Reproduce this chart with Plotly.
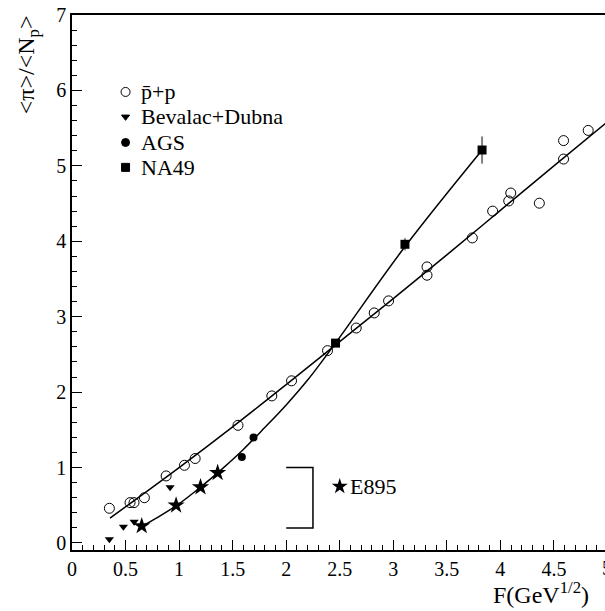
import plotly.graph_objects as go

# ---- data ----
pp_x = [0.349, 0.542, 0.579, 0.676, 0.879, 1.05, 1.15, 1.55, 1.866, 2.05, 2.386, 2.654, 2.822, 2.956,
        3.315, 3.315, 3.738, 3.928, 4.078, 4.097, 4.364, 4.59, 4.59, 4.82]
pp_y = [0.46, 0.535, 0.535, 0.60, 0.889, 1.03, 1.12, 1.56, 1.95, 2.15, 2.55, 2.85, 3.05, 3.21,
        3.55, 3.66, 4.045, 4.40, 4.535, 4.64, 4.505, 5.09, 5.335, 5.47]

bev_x = [0.349, 0.48, 0.58, 0.916]
bev_y = [0.05, 0.216, 0.28, 0.74]

ags_x = [1.586, 1.695]
ags_y = [1.14, 1.40]

na49_x = [2.461, 3.109, 3.829]
na49_y = [2.65, 3.96, 5.21]
na49_err = [0.05, 0.08, 0.18]

e895_x = [0.651, 0.972, 1.20, 1.36]
e895_y = [0.225, 0.50, 0.74, 0.93]

# fit curves
fit_pp_x = [0.355, 1.0, 1.5, 2.0, 2.5, 3.0, 3.5, 4.0, 4.5, 4.98]
fit_pp_y = [0.33, 1.0, 1.54, 2.10, 2.67, 3.24, 3.82, 4.41, 5.00, 5.56]

fit_aa_x = [0.65, 0.8, 1.0, 1.2, 1.4, 1.6, 1.8, 2.0, 2.2, 2.46, 3.11, 3.83]
fit_aa_y = [0.22, 0.34, 0.52, 0.74, 0.98, 1.24, 1.53, 1.83, 2.16, 2.65, 3.93, 5.21]

# E895 bracket
br_x = [2.0, 2.25, 2.25, 2.0]
br_y = [1.0, 1.0, 0.2, 0.2]

legend_labels = ["p\u0304+p", "Bevalac+Dubna", "AGS", "NA49"]
legend_y = [5.98, 5.65, 5.31, 4.98]

x_ticks = [0, 0.5, 1, 1.5, 2, 2.5, 3, 3.5, 4, 4.5]
y_ticks = [0, 1, 2, 3, 4, 5, 6, 7]

FONT = "Liberation Serif"

fig = go.Figure()

fig.add_trace(go.Scatter(x=fit_pp_x, y=fit_pp_y, mode="lines", line=dict(color="black", width=1.5, shape="spline")))
fig.add_trace(go.Scatter(x=fit_aa_x, y=fit_aa_y, mode="lines", line=dict(color="black", width=1.5, shape="spline")))
fig.add_trace(go.Scatter(x=br_x, y=br_y, mode="lines", line=dict(color="black", width=1.5)))

fig.add_trace(go.Scatter(x=pp_x, y=pp_y, mode="markers",
                         marker=dict(symbol="circle-open", size=10, color="black", line=dict(width=1))))
fig.add_trace(go.Scatter(x=bev_x, y=bev_y, mode="markers",
                         marker=dict(symbol="triangle-down", size=8, color="black")))
fig.add_trace(go.Scatter(x=ags_x, y=ags_y, mode="markers",
                         marker=dict(symbol="circle", size=8, color="black")))
fig.add_trace(go.Scatter(x=na49_x, y=na49_y, mode="markers",
                         error_y=dict(type="data", array=na49_err, color="#808080", thickness=2, width=0),
                         marker=dict(symbol="square", size=9, color="black")))
fig.add_trace(go.Scatter(x=e895_x, y=e895_y, mode="markers",
                         marker=dict(symbol="star", size=13, color="black")))

# legend markers
leg_sym = ["circle-open", "triangle-down", "circle", "square"]
leg_size = [9, 7, 8, 8]
for s, sz, yy in zip(leg_sym, leg_size, legend_y):
    fig.add_trace(go.Scatter(x=[0.5], y=[yy], mode="markers",
                             marker=dict(symbol=s, size=sz, color="black", line=dict(width=1, color="black"))))
fig.add_trace(go.Scatter(x=[2.5], y=[0.75], mode="markers", marker=dict(symbol="star", size=12, color="black")))

ann = []
for lab, yy in zip(legend_labels, legend_y):
    ann.append(dict(x=0.63, y=yy, xref="x", yref="y", text=lab, showarrow=False,
                    xanchor="left", yanchor="middle", font=dict(family=FONT, size=22, color="black")))
ann.append(dict(x=2.58, y=0.75, xref="x", yref="y", text="E895", showarrow=False,
                xanchor="left", yanchor="middle", font=dict(family=FONT, size=22, color="black")))
ann.append(dict(x=-0.0826, y=0.908, xref="paper", yref="paper", text="&lt;π&gt;/&lt;N<sub>p</sub>&gt;",
                textangle=-90, showarrow=False, xanchor="center", yanchor="middle",
                font=dict(family=FONT, size=24, color="black")))
ann.append(dict(x=0.88, y=-0.112, xref="paper", yref="paper", text="F(GeV<sup>1/2</sup>)",
                showarrow=False, xanchor="center", yanchor="bottom",
                font=dict(family=FONT, size=24, color="black")))
ann.append(dict(x=5 / 4.977, y=-0.0345, xref="paper", yref="paper", text="5",
                showarrow=False, xanchor="center", yanchor="middle",
                font=dict(family=FONT, size=20, color="black")))

fig.update_layout(
    width=605, height=611,
    margin=dict(l=72, r=0, t=15, b=61),
    paper_bgcolor="white", plot_bgcolor="white",
    showlegend=False,
    annotations=ann,
    font=dict(family=FONT, size=20, color="black"),
)
fig.update_xaxes(range=[0, 4.977], tickvals=x_ticks, ticktext=[f"{v:g}" for v in x_ticks],
                 ticks="inside", ticklen=10, tickwidth=1, tickcolor="black",
                 showline=True, linecolor="black", linewidth=1.5, mirror=True,
                 showgrid=False, zeroline=False,
                 minor=dict(ticks="inside", ticklen=5, dtick=0.1, tick0=0, tickcolor="black", showgrid=False),
                 tickfont=dict(family=FONT, size=20, color="black"))
fig.update_yaxes(range=[-0.093, 7.0], tickvals=y_ticks,
                 ticks="inside", ticklen=10, tickwidth=1, tickcolor="black",
                 showline=True, linecolor="black", linewidth=1.5,
                 showgrid=False, zeroline=False,
                 minor=dict(ticks="inside", ticklen=5, dtick=0.2, tick0=0, tickcolor="black", showgrid=False),
                 tickfont=dict(family=FONT, size=20, color="black"))

fig.write_html("out.html")
